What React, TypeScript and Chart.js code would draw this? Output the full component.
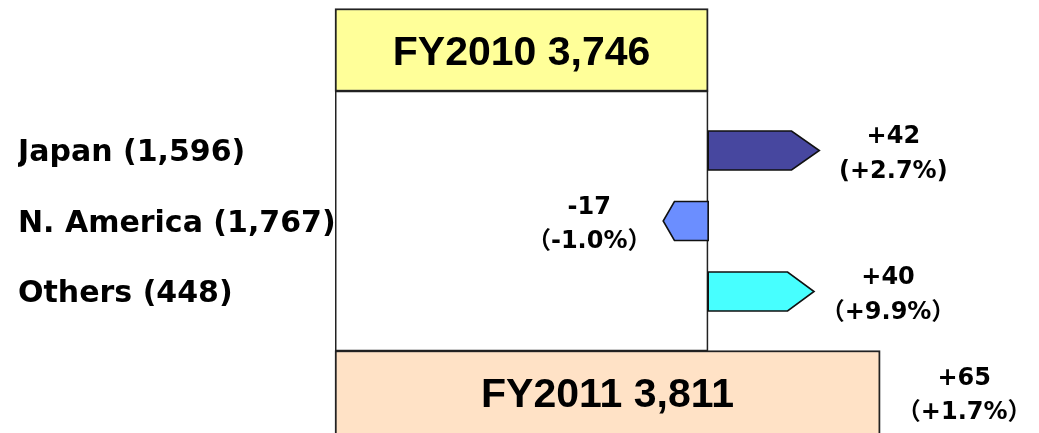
import React, { useEffect, useRef } from 'react';
import { Chart, registerables } from 'chart.js';

Chart.register(...registerables);

// ---- data ----
const totalLabels = ['FY2010', 'FY2011'];
const totalValues = [3746, 3811];
const totalChangeText = ['+65', '（+1.7%）'];

const regionNames = ['Japan', 'N. America', 'Others'];
const regionSales = [1596, 1767, 448];
const regionChange = [42, -17, 40];
const regionChangePct = ['(+2.7%)', '（-1.0%）', '（+9.9%）'];

// ---- styles ----
const X_MIN = 3605;
const X_MAX = 3871;
const totalColors = ['#FFFF99', '#FFE2C6'];
const arrowColors = ['#47479F', '#6B8EFF', '#47FFFF'];
const LABEL_FONT = 'bold 24px "DejaVu Sans", "Noto Sans CJK JP", sans-serif';
const BOX_FONT = 'bold 41px "Liberation Sans", Arial, sans-serif';

const regionTickLabels = regionNames.map(
  (n, i) => `${n} (${regionSales[i].toLocaleString('en-US')})`
);
const fmtChange = (v: number) => (v > 0 ? `+${v}` : `${v}`);

const diagramPlugin = {
  id: 'diagram',
  beforeDatasetsDraw(chart: any) {
    const ctx = chart.ctx;
    const els = chart.getDatasetMeta(0).data;
    if (els.length < 2) return;
    const a = els[0].getProps(['x', 'y', 'base', 'height'], true);
    const b = els[1].getProps(['x', 'y', 'base', 'height'], true);
    const left = a.base;
    const right = a.x;
    const y0 = a.y + a.height / 2;
    const y1 = b.y - b.height / 2;
    ctx.save();
    ctx.fillStyle = '#ffffff';
    ctx.fillRect(left, y0, right - left, y1 - y0);
    ctx.strokeStyle = '#222';
    ctx.lineWidth = 1.5;
    ctx.strokeRect(left + 0.75, y0, right - left - 1.5, y1 - y0);
    ctx.restore();
  },
  afterDatasetsDraw(chart: any) {
    const ctx = chart.ctx;
    ctx.save();
    // arrows for regional changes
    const meta = chart.getDatasetMeta(1);
    meta.data.forEach((el: any, i: number) => {
      const { x, y, base, height } = el.getProps(['x', 'y', 'base', 'height'], true);
      const dir = Math.sign(regionChange[i]) || 1;
      const lo = Math.min(x, base);
      const hi = Math.max(x, base);
      const from = dir > 0 ? lo : hi;
      const to = dir > 0 ? hi : lo;
      const head = (hi - lo) * 0.25;
      const h = height / 2;
      ctx.beginPath();
      ctx.moveTo(from, y - h);
      ctx.lineTo(to - dir * head, y - h);
      ctx.lineTo(to, y);
      ctx.lineTo(to - dir * head, y + h);
      ctx.lineTo(from, y + h);
      ctx.closePath();
      ctx.fillStyle = arrowColors[i];
      ctx.fill();
      ctx.lineWidth = 1.6;
      ctx.lineJoin = 'miter';
      ctx.strokeStyle = '#111';
      ctx.stroke();

      ctx.fillStyle = '#000';
      ctx.font = LABEL_FONT;
      ctx.textAlign = 'center';
      ctx.textBaseline = 'middle';
      const lx = to + dir * 74;
      ctx.fillText(fmtChange(regionChange[i]), lx, y - 13.5);
      ctx.fillText(regionChangePct[i], lx, y + 21);
    });

    // total box labels
    const tot = chart.getDatasetMeta(0).data;
    tot.forEach((el: any, i: number) => {
      const { x, y, base } = el.getProps(['x', 'y', 'base'], true);
      ctx.fillStyle = '#000';
      ctx.font = BOX_FONT;
      ctx.textAlign = 'center';
      ctx.textBaseline = 'middle';
      ctx.fillText(`${totalLabels[i]} ${totalValues[i].toLocaleString('en-US')}`, (x + base) / 2, y + 4);
      if (i === 1) {
        ctx.font = LABEL_FONT;
        const lx = x + 84;
        ctx.fillText(totalChangeText[0], lx, y - 13.5);
        ctx.fillText(totalChangeText[1], lx, y + 21);
      }
    });
    ctx.restore();
  },
};

export default function App() {
  const canvasRef = useRef<HTMLCanvasElement | null>(null);

  useEffect(() => {
    if (!canvasRef.current) return;
    const chart = new Chart(canvasRef.current, {
      type: 'bar',
      data: {
        datasets: [
          {
            label: 'Total',
            yAxisID: 'yTot',
            data: totalLabels.map((l, i) => ({ x: totalValues[i], y: l })) as any,
            base: X_MIN,
            backgroundColor: totalColors,
            borderColor: '#222',
            borderWidth: 2,
            borderSkipped: (c: any) => (c.dataIndex === totalLabels.length - 1 ? 'bottom' : false),
            grouped: false,
            barThickness: 83,
            maxBarThickness: 83,
            clip: false as any,
          } as any,
          {
            label: 'Change',
            yAxisID: 'yReg',
            data: regionChange.map((d, i) => ({ x: [totalValues[0], totalValues[0] + d], y: i })) as any,
            backgroundColor: 'rgba(0,0,0,0)',
            borderWidth: 0,
            grouped: false,
            barThickness: 39,
            maxBarThickness: 39,
            clip: false as any,
          } as any,
        ],
      },
      options: {
        indexAxis: 'y',
        responsive: false,
        animation: false,
        events: [],
        layout: { padding: { left: 18, top: 50, bottom: 41, right: 0 } },
        plugins: {
          legend: { display: false },
          tooltip: { enabled: false },
          title: { display: false },
        },
        scales: {
          x: {
            type: 'linear',
            min: X_MIN,
            max: X_MAX,
            display: false,
            offset: false,
          },
          yTot: {
            type: 'category',
            labels: totalLabels,
            offset: false,
            display: false,
            grid: { display: false, offset: false },
          },
          yReg: {
            type: 'linear',
            position: 'left',
            reverse: true,
            min: -1.4255,
            max: 3.4255,
            bounds: 'data',
            offset: false,
            grid: { display: false },
            border: { display: false },
            ticks: {
              autoSkip: false,
              crossAlign: 'far',
              padding: 0,
              labelOffset: 3,
              color: '#000',
              font: { family: '"DejaVu Sans", sans-serif', size: 30, weight: 'bold' },
              callback: (v: any) => regionTickLabels[v as number] ?? '',
            },
            afterBuildTicks: (s: any) => {
              s.ticks = regionNames.map((_, i) => ({ value: i }));
            },
            afterFit: (s: any) => {
              s.width = 317;
            },
          } as any,
        },
      } as any,
      plugins: [diagramPlugin],
    });
    return () => chart.destroy();
  }, []);

  return (
    <div style={{ position: 'fixed', left: 0, top: 0, width: 1039, height: 433, background: '#fff' }}>
      <canvas ref={canvasRef} width={1039} height={433} />
    </div>
  );
}
